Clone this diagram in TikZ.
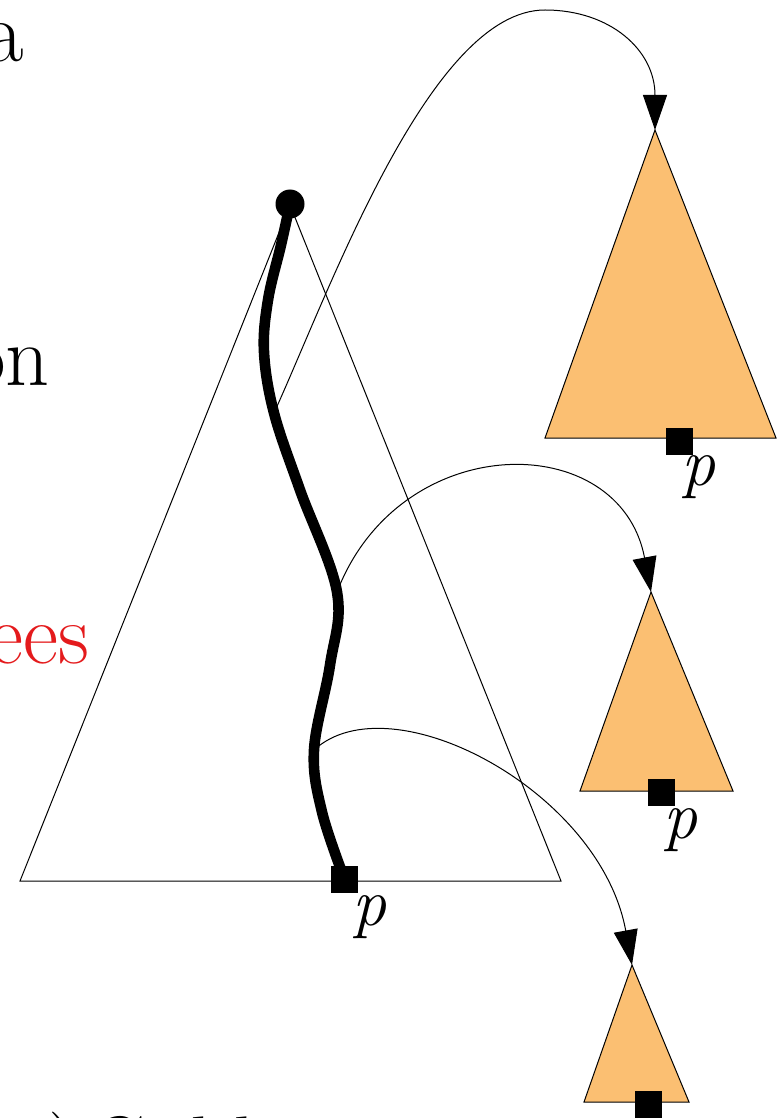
\documentclass[tikz,border=0pt]{standalone}
\usetikzlibrary{arrows.meta}
\definecolor{subtree}{RGB}{251,191,114}
\definecolor{redtext}{RGB}{228,26,28}
\tikzset{
  subtri/.style={fill=subtree, draw=black, line width=0.5pt, line join=miter},
  bigtri/.style={draw=black, line width=0.5pt},
  heavy/.style={line width=5.3pt, black},
  link/.style={line width=0.5pt, -{Triangle[width=12pt,length=17.5pt]}},
  leafsq/.style={fill=black, minimum size=13.5pt, inner sep=0pt, draw=none},
  rootdot/.style={circle, fill=black, minimum size=14.5pt, inner sep=0pt},
  plabel/.style={inner sep=0pt, anchor=north west, font=\fontsize{34}{40}\selectfont\itshape},
  captext/.style={inner sep=0pt, font=\fontsize{43}{50}\selectfont},
}
\begin{document}
\begin{tikzpicture}[x=0.5pt,y=-0.5pt]
\useasboundingbox (0,0) rectangle (778,1118);
\clip (0,0) rectangle (778,1118);

% key points
\coordinate (root) at (290,204);
\coordinate (leaf) at (344.5,879);
\coordinate (b1) at (274,413);
\coordinate (b2) at (337,592);
\coordinate (b3) at (314,750);
\coordinate (t1) at (655,130);
\coordinate (t2) at (651,592);
\coordinate (t3) at (632,965);
\coordinate (peak1) at (545,10);

% big tree
\draw[bigtri] (290,205) -- (20,881) -- (561,881) -- cycle;

% subtrees
\draw[subtri] (t1) -- (545,438) -- (776,438) -- cycle;
\draw[subtri] (t2) -- (580,791) -- (733,791) -- cycle;
\draw[subtri] (t3) -- (584,1102) -- (689,1102) -- cycle;

% links
\draw[link] (b1) .. controls (330,290) and (430,10) .. (peak1) .. controls (610,10) and (655,50) .. (t1);
\draw[link] (b2) .. controls (400,428) and (620,428) .. (t2);
\draw[link] (b3) .. controls (390,680) and (600,790) .. (t3);

% heavy path
\draw[heavy] plot[smooth, tension=0.6] coordinates {(root) (281,245) (268,300) (264,352) (b1) (300,490) (b2) (330,665) (b3) (322,812) (leaf)};

\node[rootdot] (rootdot) at (root) {};
\node[leafsq] (sq0) at (leaf) {};
\node[leafsq] (sq1) at (679,441) {};
\node[leafsq] (sq2) at (661,792) {};
\node[leafsq] (sq3) at (648,1104) {};

\node[plabel] (p0) at (352,895) {p};
\node[plabel] (p1) at (681,455) {p};
\node[plabel] (p2) at (663,808) {p};

% cut-off texts
\node[captext, anchor=base east] (ta) at (24,62) {a};
\node[captext, anchor=base east] (ton) at (50,385) {on};
\node[captext, anchor=base east, text=redtext] (tees) at (90,663) {ees};
\node[captext, anchor=base west] (tparen) at (48,1176) {)};
\node[captext, anchor=base west] (tgold) at (88,1176) {Gold};
\end{tikzpicture}
\end{document}
